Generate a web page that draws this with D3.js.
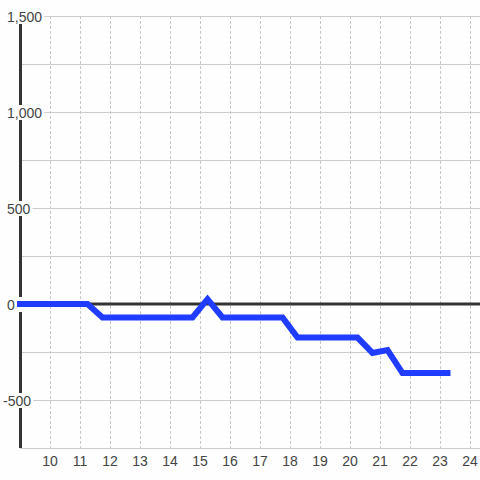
<!DOCTYPE html>
<html><head><meta charset="utf-8">
<script src="https://cdn.jsdelivr.net/npm/d3@7"></script>
<style>
html,body{margin:0;padding:0;background:#fdfefd;}
svg{display:block;font-family:"Liberation Sans",Arial,sans-serif;}
</style></head>
<body><svg id="c" width="480" height="480"></svg>
<script>
const xValues = [8.9, 11.25, 11.75, 14.75, 15.25, 15.75, 17.75, 18.25, 20.25, 20.75, 21.25, 21.75, 23.35];
const yValues = [0, 0, -70, -70, 25, -70, -70, -175, -175, -255, -240, -360, -360];
const xTicks = [10, 11, 12, 13, 14, 15, 16, 17, 18, 19, 20, 21, 22, 23, 24];
const yGrid = [1500, 1250, 1000, 750, 500, 250, 0, -250, -500, -750];
const yLabels = [1500, 1000, 500, 0, -500];

const svg = d3.select("#c");
const x = d3.scaleLinear().domain([9, 24.333]).range([20, 480]);
const y = d3.scaleLinear().domain([-750, 1500]).range([448, 16]);

// horizontal gridlines
svg.append("g").selectAll("line").data(yGrid).join("line")
  .attr("x1", 20).attr("x2", 480)
  .attr("y1", d => Math.round(y(d)) + 0.5).attr("y2", d => Math.round(y(d)) + 0.5)
  .attr("stroke", "#cccccc").attr("stroke-width", 1);

// vertical dashed gridlines
svg.append("g").selectAll("line").data(xTicks).join("line")
  .attr("x1", d => Math.round(x(d)) + 0.5).attr("x2", d => Math.round(x(d)) + 0.5)
  .attr("y1", 16).attr("y2", 448)
  .attr("stroke", "#c8c8c8").attr("stroke-width", 1).attr("stroke-dasharray", "3,2");

// left axis line
svg.append("line").attr("x1", 20.5).attr("x2", 20.5).attr("y1", 16).attr("y2", 448)
  .attr("stroke", "#333").attr("stroke-width", 3);

// zero line
svg.append("line").attr("x1", 20).attr("x2", 480).attr("y1", y(0)).attr("y2", y(0))
  .attr("stroke", "#333").attr("stroke-width", 3);

// y labels with background boxes
const yl = svg.append("g").selectAll("g").data(yLabels).join("g");
const yt = yl.append("text")
  .attr("x", d => d < 0 ? 3 : 7)
  .attr("y", d => y(d) + 5.5)
  .attr("font-size", 14).attr("fill", "#444")
  .text(d => d3.format(",")(d).replace("−", "-"));
yt.each(function(d) {
  const b = this.getBBox();
  const left = b.x - 2, right = Math.max(b.x + b.width + 2, 24);
  d3.select(this.parentNode).insert("rect", "text")
    .attr("x", left).attr("y", y(d) - 7).attr("width", right - left).attr("height", 15)
    .attr("fill", "#fdfefd");
});

// x labels
svg.append("g").selectAll("text").data(xTicks).join("text")
  .attr("x", d => x(d)).attr("y", 466)
  .attr("text-anchor", "middle").attr("font-size", 14).attr("fill", "#444")
  .text(d => d);

// data line
const pts = xValues.map((v, i) => [v, yValues[i]]);
svg.append("path").datum(pts)
  .attr("d", d3.line().x(d => x(d[0])).y(d => y(d[1])))
  .attr("fill", "none").attr("stroke", "#1f3cff").attr("stroke-width", 6)
  .attr("stroke-linejoin", "miter");
</script></body></html>
